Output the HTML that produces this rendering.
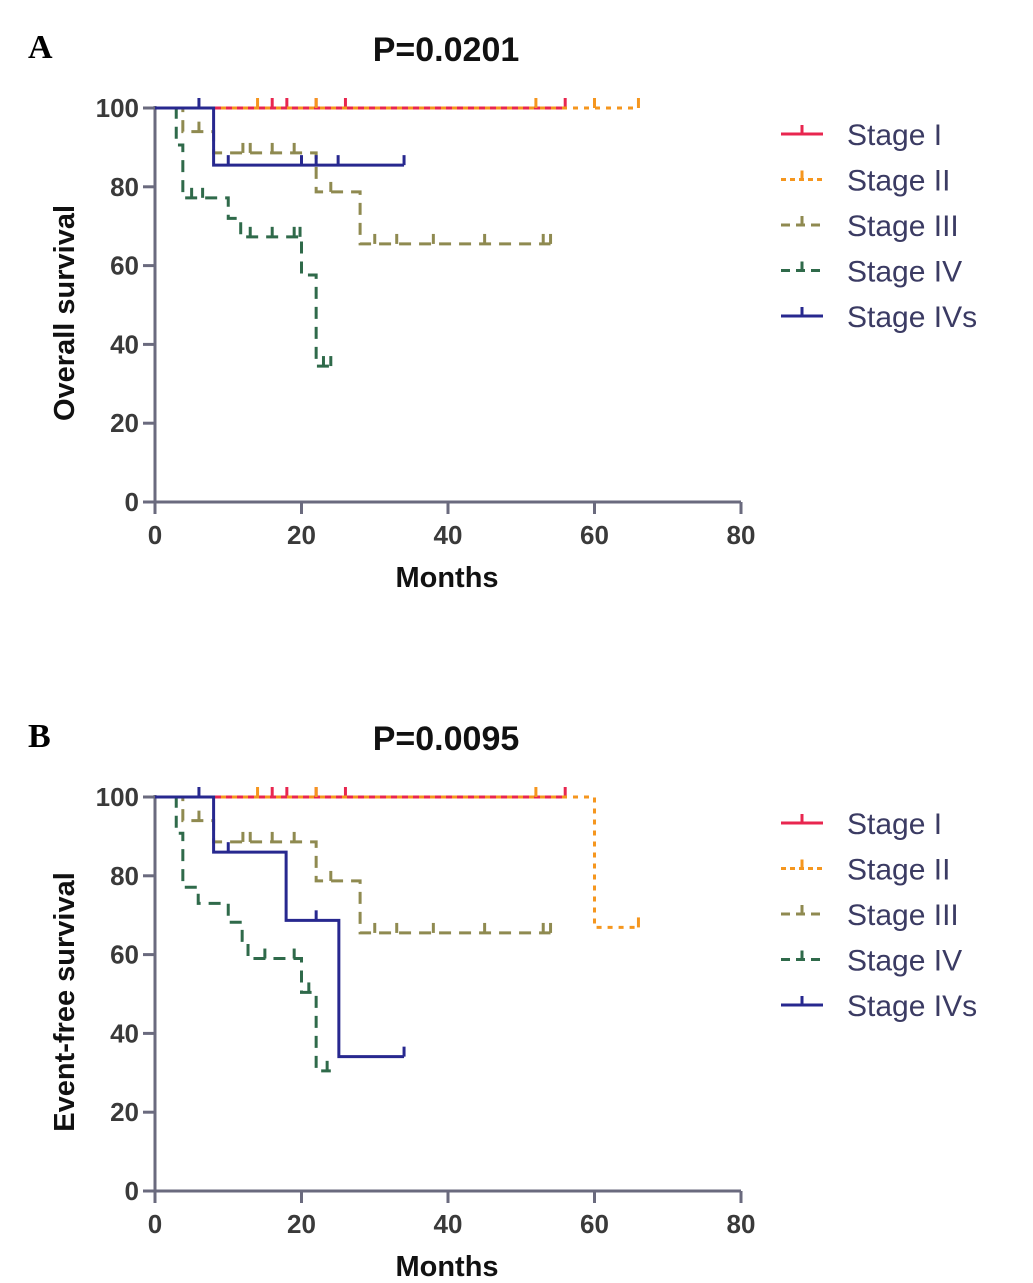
<!DOCTYPE html>
<html><head><meta charset="utf-8">
<style>
body{margin:0;background:#fff;}
svg{display:block;font-family:"Liberation Sans",Arial,sans-serif;}
</style></head>
<body>
<svg id="chart" width="1033" height="1283" viewBox="0 0 1033 1283" xmlns="http://www.w3.org/2000/svg"></svg>
<script>
const seriesNames = ["Stage I","Stage II","Stage III","Stage IV","Stage IVs"];
const seriesColors = ["#e8264f","#f5961e","#8f8a50","#2f6a4a","#27288f"];
const seriesDash = ["none","5,6","12,8","12,8","none"];
const xTicks = [0,20,40,60,80];
const yTicks = [0,20,40,60,80,100];

// Panel A (overall survival): step times / survival values / end / censors
const osTimes = [[],[],[3.8,8,22,28],[2.9,3.8,10,11.7,20,22],[8]];
const osValues = [[],[],[94,88.6,78.7,65.5],[90.6,77.2,72,67.3,57.6,34.5],[85.5]];
const osEnd = [56,66,54,24,34];
const osCensor = [[16,18,22,26,56],[14,22,52,60,66],[6,12,13,16,19,24,30,33,38,45,53,54],[5,6.5,13,16,19,19.8,23,24],[6,10,20,22,25,34]];

// Panel B (event-free survival)
const efsTimes = [[],[60],[3.8,8,22,28],[2.9,3.8,5.9,10,11.9,12.7,20,22],[8,17.9,25.1]];
const efsValues = [[],[66.9],[94,88.6,78.7,65.5],[90.8,77.1,73,68.2,63.6,59,50.4,30.5],[86,68.7,34.1]];
const efsEnd = [56,66,54,24,34];
const efsCensor = [[16,18,22,26,56],[14,22,52,66],[6,12,13,16,19,24,30,33,38,45,53,54],[15,19,21,23.5],[6,10,22,34]];

const svg = document.getElementById('chart');
const NS = "http://www.w3.org/2000/svg";
function mk(tag, attrs, parent, text){
  const e = document.createElementNS(NS, tag);
  for (const k in attrs) e.setAttribute(k, attrs[k]);
  if (text !== undefined) e.textContent = text;
  (parent||svg).appendChild(e);
  return e;
}
function valAt(times, vals, t){
  let v = 100;
  for (let i=0;i<times.length;i++) if (times[i] <= t) v = vals[i];
  return v;
}
function panel(key, top, letter, title, ylabel, times, values, ends, censors){
  const x0=155, x1=741, y100=top, y0=top+394;
  const X = m => x0 + (m/80)*(x1-x0);
  const Y = v => y0 - (v/100)*(y0-y100);
  const g = mk('g', {});
  
  
  const lt = mk('text',{x:28,y:top-50,'font-family':'Liberation Serif,serif','font-weight':'bold','font-size':34,fill:'#000'},g,letter);
   
  const tt = mk('text',{x:446,y:top-47,'text-anchor':'middle','font-weight':'bold','font-size':34,fill:'#111'},g,title);
   
  const ax = mk('g',{stroke:'#6a6a7e','stroke-width':3,fill:'none'},g);
   
  mk('line',{x1:x0,y1:y100-2,x2:x0,y2:y0},ax);
  mk('line',{x1:x0,y1:y0,x2:x1,y2:y0},ax);
  yTicks.forEach(v=>{
    mk('line',{x1:x0-12,y1:Y(v),x2:x0,y2:Y(v)},ax);
    const t = mk('text',{x:x0-16,y:Y(v)+9,'text-anchor':'end','font-weight':'bold','font-size':26,fill:'#3a3a3a'},g,String(v));
     
  });
  xTicks.forEach(v=>{
    mk('line',{x1:X(v),y1:y0,x2:X(v),y2:y0+12},ax);
    const t = mk('text',{x:X(v),y:y0+42,'text-anchor':'middle','font-weight':'bold','font-size':26,fill:'#3a3a3a'},g,String(v));
     
  });
  const xt = mk('text',{x:447,y:y0+85,'text-anchor':'middle','font-weight':'bold','font-size':29,fill:'#111'},g,'Months');
   
  const yt = mk('text',{x:0,y:0,'text-anchor':'middle','font-weight':'bold','font-size':29,fill:'#111',transform:`translate(74,${(y0+y100)/2+8}) rotate(-90)`},g,ylabel);
   
  for (let s=0;s<seriesNames.length;s++){
    let d = `M${X(0)},${Y(100)}`;
    for (let i=0;i<times[s].length;i++){
      d += ` H${X(times[s][i])} V${Y(values[s][i])}`;
    }
    d += ` H${X(ends[s])}`;
    const p = mk('path',{d:d,fill:'none',stroke:seriesColors[s],'stroke-width':3,'stroke-dasharray':seriesDash[s]},g);
    
    
    censors[s].forEach(c=>{
      const v = valAt(times[s], values[s], c);
      const m = mk('line',{x1:X(c),y1:Y(v),x2:X(c),y2:Y(v)-10,stroke:seriesColors[s],'stroke-width':3},g);
       
    });
  }
  for (let s=0;s<seriesNames.length;s++){
    const ly = top+26+s*45.5;
    const lg = mk('g',{},g);
     
    mk('line',{x1:781,y1:ly,x2:823,y2:ly,stroke:seriesColors[s],'stroke-width':3,'stroke-dasharray':s==1?'5,4':(seriesDash[s]=='none'?'none':'9,6')},lg);
    mk('line',{x1:802,y1:ly,x2:802,y2:ly-9,stroke:seriesColors[s],'stroke-width':3},lg);
    mk('text',{x:847,y:ly+11,'font-size':30,fill:'#3b3b63'},lg,seriesNames[s]);
  }
}
panel('os',108,'A','P=0.0201','Overall survival',osTimes,osValues,osEnd,osCensor);
panel('efs',797,'B','P=0.0095','Event-free survival',efsTimes,efsValues,efsEnd,efsCensor);
</script>
</body></html>
